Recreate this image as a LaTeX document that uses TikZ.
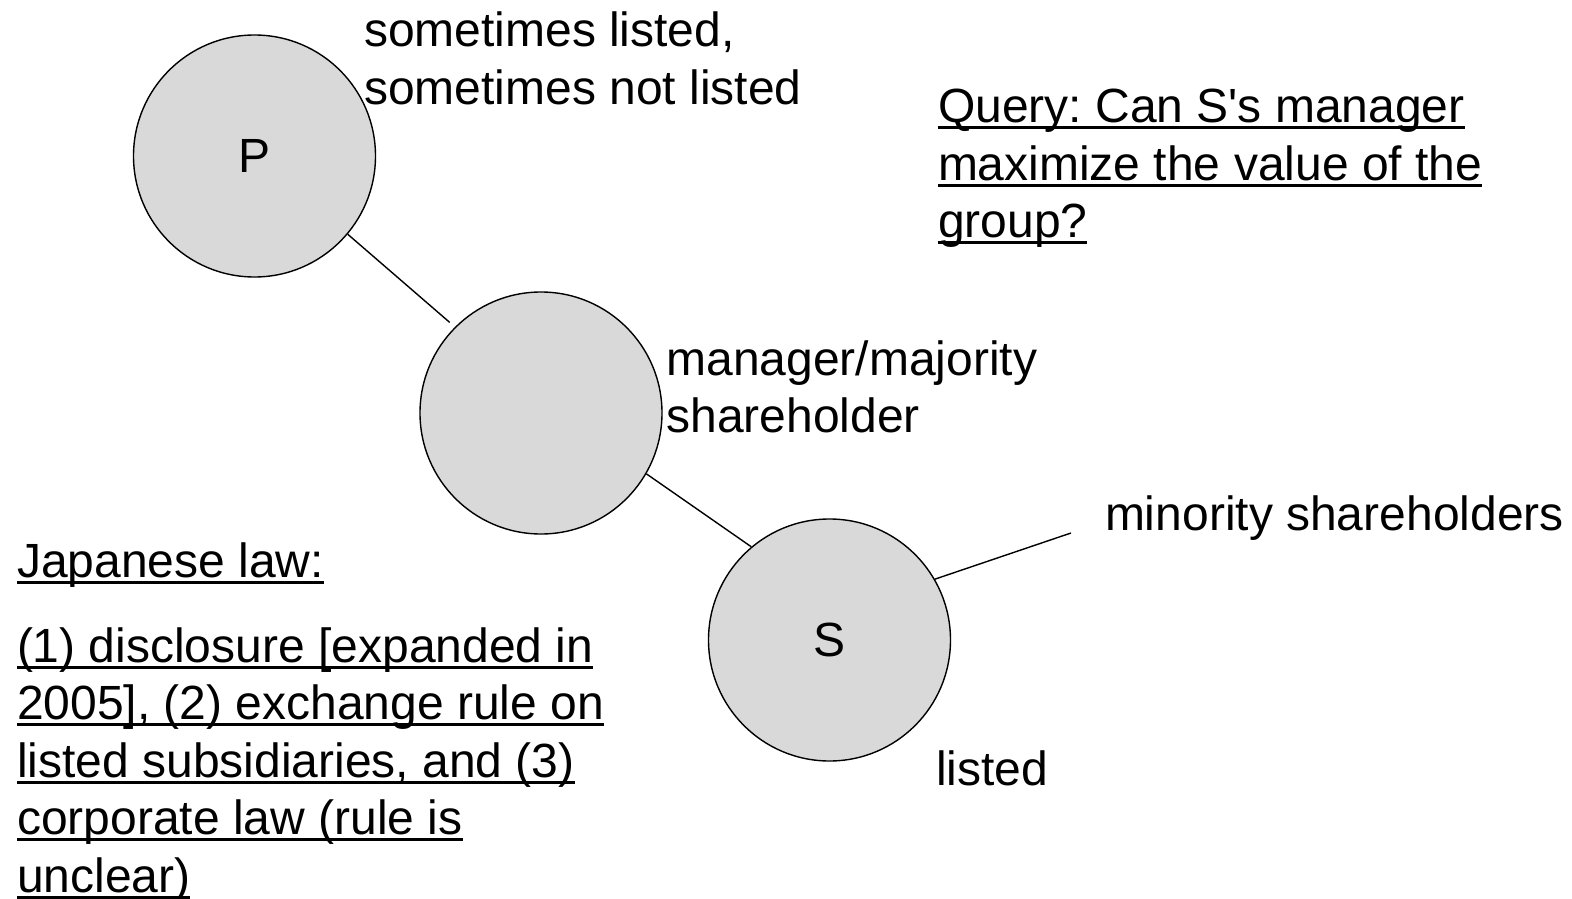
\documentclass[tikz,border=0pt]{standalone}
\usepackage{fontspec}
\setmainfont{Liberation Sans}[Ligatures=TeXOff]
\definecolor{discfill}{RGB}{217,217,217}
% underlined text with a fixed rule just below the baseline
\newcommand{\ulbox}[1]{\setbox0=\hbox{#1}\rlap{\rule[-6.5pt]{\wd0}{2.8pt}}\box0}
\tikzset{
  disc/.style={circle, draw=black, line width=1.4pt, fill=discfill,
    minimum size=242pt, inner sep=0pt,
    font=\fontsize{48pt}{57.5pt}\selectfont},
  label text/.style={anchor=base west, inner sep=0pt, outer sep=0pt,
    font=\fontsize{48pt}{57.5pt}\selectfont\frenchspacing},
  link/.style={line width=1.4pt, draw=black}
}
\begin{document}
\begin{tikzpicture}[x=1pt, y=-1pt]
  \useasboundingbox (0,0) rectangle (1572,899);

  % companies
  \node[disc] (P) at (254.5,156) {P};
  \node[disc] (M) at (541,413) {};
  \node[disc] (S) at (829.5,640) {S};
  \coordinate (minority) at (1071,533);

  % holdings
  \draw[link, shorten >=7pt] (P.-40) -- (M.135);
  \draw[link] (M.-30) -- (S.130);
  \draw[link] (S.30) -- (minority);

  % annotations
  \node[label text] (pA) at (364,47) {sometimes listed,};
  \node[label text] (pB) at (364,104) {sometimes not listed};
  \node[label text] (mA) at (666.5,375) {manager/majority};
  \node[label text] (mB) at (666.5,432) {shareholder};
  \node[label text] (minText) at (1105,530) {minority shareholders};
  \node[label text] (sA) at (936,785) {listed};

  % question
  \node[label text] (qA) at (938,122.7) {\ulbox{Query: Can S's manager}};
  \node[label text] (qB) at (938,180) {\ulbox{maximize the value of the}};
  \node[label text] (qC) at (938,237) {\ulbox{group?}};

  % legal framework
  \node[label text] (jA) at (17,577) {\ulbox{Japanese law:}};
  \node[label text] (jB) at (17,662) {\ulbox{(1) disclosure [expanded in}};
  \node[label text] (jC) at (17,719.5) {\ulbox{2005], (2) exchange rule on}};
  \node[label text] (jD) at (17,777) {\ulbox{listed subsidiaries, and (3)}};
  \node[label text] (jE) at (17,834.5) {\ulbox{corporate law (rule is}};
  \node[label text] (jF) at (17,892) {\ulbox{unclear)}};
\end{tikzpicture}
\end{document}
